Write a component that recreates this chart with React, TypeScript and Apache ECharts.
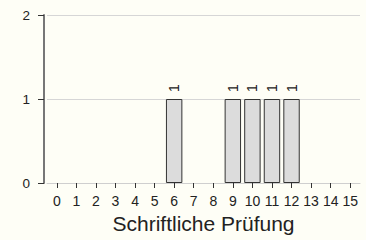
import React, { useEffect, useRef } from "react";
import * as echarts from "echarts";

const categories = ["0","1","2","3","4","5","6","7","8","9","10","11","12","13","14","15"];
const counts = [0,0,0,0,0,0,1,0,0,1,1,1,1,0,0,0];
const yTicks = [0, 1, 2];
const axisTitle = "Schriftliche Prüfung";

export default function App() {
  const ref = useRef<HTMLDivElement>(null);
  useEffect(() => {
    if (!ref.current) return;
    const chart = echarts.init(ref.current, null, { renderer: "svg" });
    const font = "Liberation Sans, Arial, Helvetica, sans-serif";
    chart.setOption({
      animation: false,
      backgroundColor: "#fefef6",
      textStyle: { fontFamily: font },
      grid: { left: 47, right: 6, top: 15, bottom: 57, containLabel: false, outerBoundsMode: "none" },
      xAxis: {
        type: "category",
        data: categories,
        boundaryGap: true,
        name: axisTitle,
        nameLocation: "middle",
        nameGap: 30,
        nameTextStyle: { fontSize: 21, color: "#222", fontFamily: font },
        axisLine: { show: true, lineStyle: { color: "#cfcfcf", width: 1 } },
        axisTick: { show: true, alignWithLabel: true, length: 5, lineStyle: { color: "#333" } },
        axisLabel: { color: "#222", fontSize: 14, margin: 11, interval: 0, fontFamily: font },
        splitLine: { show: false },
      },
      yAxis: {
        type: "value",
        min: yTicks[0],
        max: yTicks[yTicks.length - 1],
        interval: 1,
        offset: 3,
        axisLine: { show: true, lineStyle: { color: "#777", width: 2 } },
        axisTick: { show: true, length: 6, lineStyle: { color: "#333" } },
        axisLabel: { color: "#222", fontSize: 13.5, margin: 14, fontFamily: font },
        splitLine: { show: true, lineStyle: { color: "#d6d6d6", width: 1 } },
      },
      series: [
        {
          type: "bar",
          data: counts.map((v) => (v === 0 ? "-" : v)),
          barWidth: "84%",
          itemStyle: { color: "#dcdcdc", borderColor: "#333", borderWidth: 1 },
          label: {
            show: true,
            position: "top",
            distance: 9,
            offset: [-2, 0],
            rotate: 90,
            align: "left",
            verticalAlign: "middle",
            color: "#222",
            fontSize: 14,
            fontFamily: font,
          },
        },
      ],
    });
    return () => chart.dispose();
  }, []);
  return (
    <div
      ref={ref}
      style={{ position: "absolute", left: 0, top: 0, width: 366, height: 240 }}
    />
  );
}
